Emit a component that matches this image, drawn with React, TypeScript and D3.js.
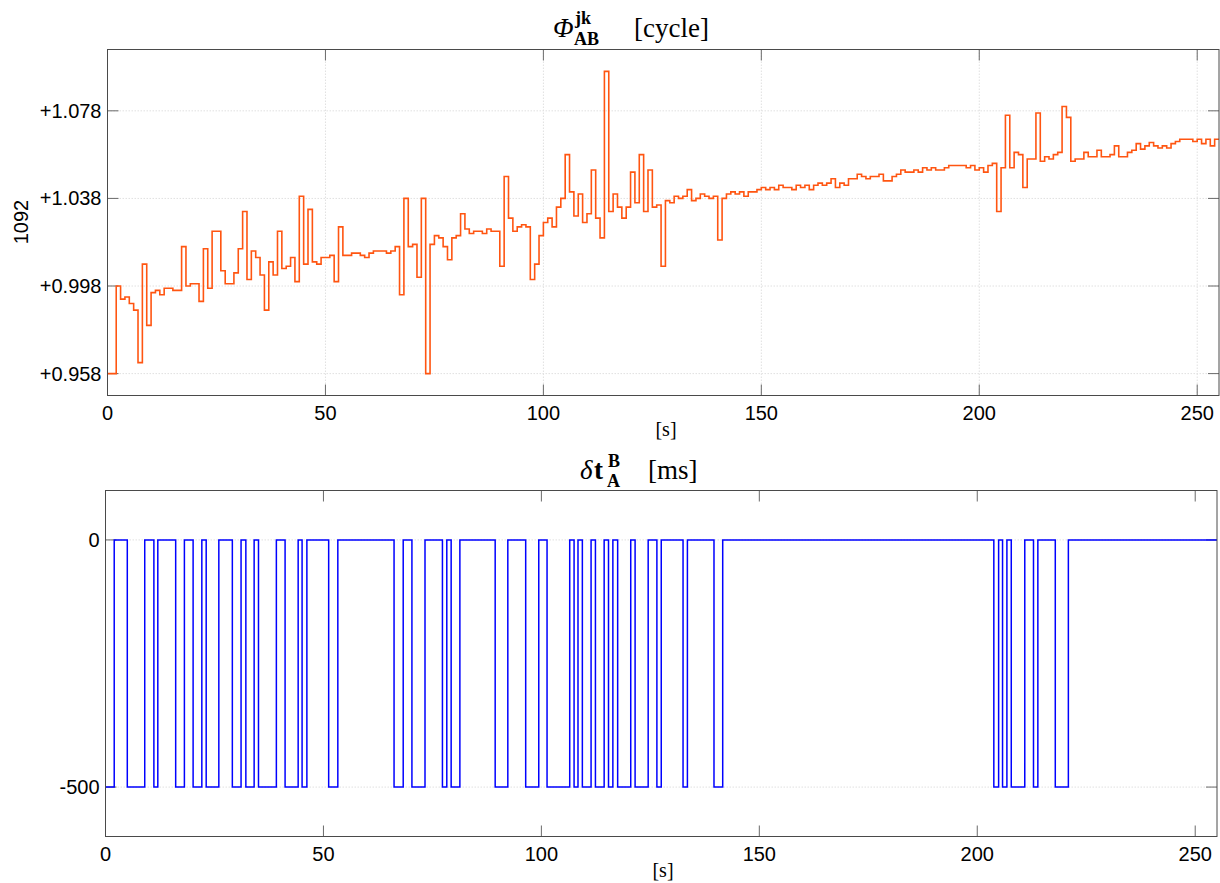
import React from 'react';
import * as d3 from 'd3';

// ---------- data ----------
const phiOffset = 1092;
// carrier-phase (offset from 1092 cycles), one value per second, t = 0..254
const phiValues = [
  0.958, 0.958, 0.998, 0.992, 0.993, 0.990, 0.987, 0.963, 1.008, 0.980,
  0.995, 0.996, 0.994, 0.997, 0.997, 0.996, 0.996, 1.016, 0.998, 0.999,
  0.999, 0.991, 1.015, 0.997, 1.023, 1.023, 1.005, 0.999, 0.999, 1.004,
  1.015, 1.032, 1.001, 1.014, 1.011, 1.003, 0.987, 1.009, 1.003, 1.023,
  1.006, 1.007, 1.011, 1.000, 1.039, 1.008, 1.033, 1.009, 1.008, 1.011,
  1.011, 1.012, 1.000, 1.025, 1.012, 1.012, 1.013, 1.013, 1.012, 1.011,
  1.013, 1.014, 1.014, 1.014, 1.013, 1.014, 1.016, 0.994, 1.038, 1.016,
  1.017, 1.002, 1.038, 0.958, 1.017, 1.021, 1.020, 1.016, 1.010, 1.020,
  1.021, 1.031, 1.024, 1.022, 1.023, 1.023, 1.022, 1.024, 1.023, 1.023,
  1.007, 1.048, 1.029, 1.023, 1.025, 1.026, 1.025, 1.001, 1.008, 1.021,
  1.027, 1.029, 1.025, 1.034, 1.038, 1.058, 1.041, 1.030, 1.040, 1.027,
  1.031, 1.051, 1.029, 1.020, 1.096, 1.032, 1.040, 1.034, 1.029, 1.034,
  1.050, 1.036, 1.058, 1.032, 1.051, 1.034, 1.035, 1.007, 1.037, 1.036,
  1.039, 1.038, 1.039, 1.042, 1.037, 1.038, 1.040, 1.039, 1.038, 1.039,
  1.019, 1.038, 1.040, 1.041, 1.040, 1.041, 1.039, 1.041, 1.041, 1.042,
  1.043, 1.042, 1.043, 1.042, 1.044, 1.043, 1.043, 1.042, 1.044, 1.043,
  1.044, 1.042, 1.044, 1.045, 1.044, 1.045, 1.047, 1.043, 1.045, 1.044,
  1.047, 1.047, 1.049, 1.048, 1.047, 1.048, 1.048, 1.049, 1.046, 1.046,
  1.048, 1.049, 1.051, 1.050, 1.050, 1.051, 1.050, 1.052, 1.051, 1.052,
  1.051, 1.051, 1.052, 1.053, 1.053, 1.053, 1.053, 1.052, 1.053, 1.051,
  1.052, 1.050, 1.053, 1.054, 1.032, 1.052, 1.076, 1.052, 1.059, 1.058,
  1.043, 1.056, 1.056, 1.077, 1.055, 1.057, 1.056, 1.058, 1.059, 1.080,
  1.075, 1.055, 1.056, 1.056, 1.059, 1.057, 1.057, 1.060, 1.057, 1.057,
  1.058, 1.062, 1.057, 1.057, 1.059, 1.060, 1.063, 1.0605, 1.062, 1.0635,
  1.062, 1.061, 1.062, 1.061, 1.063, 1.064, 1.065, 1.065, 1.065, 1.064,
  1.065, 1.063, 1.065, 1.062, 1.065,
];
const phiYTicks = [0.958, 0.998, 1.038, 1.078];
const phiYTickLabels = ['+0.958', '+0.998', '+1.038', '+1.078'];

const xTicks = [0, 50, 100, 150, 200, 250];
const xMax = 255;

// clock offset steps: value holds from time until next time
const dtTimes = [
  0, 2.0, 5.0, 9.0, 11.1, 12.0, 16.1, 18.1, 20.1, 22.1, 23.1, 26.0, 29.1, 31.1,
  32.2, 34.1, 35.1, 39.2, 41.2, 44.2, 45.1, 46.2, 51.2, 53.3, 66.2, 68.3, 70.3,
  73.3, 77.3, 78.3, 79.3, 81.3, 89.4, 92.3, 96.4, 99.4, 101.3, 106.5, 107.5,
  108.4, 109.4, 111.4, 112.4, 114.4, 115.4, 116.4, 117.5, 120.5, 121.5, 124.5,
  126.5, 127.5, 132.5, 133.5, 139.6, 141.6, 203.8, 204.9, 205.8, 206.8, 207.8,
  210.9, 212.9, 213.9, 217.9, 220.9,
];
const dtValues = [
  -500, 0, -500, 0, -500, 0, -500, 0, -500, 0, -500, 0, -500, 0,
  -500, 0, -500, 0, -500, 0, -500, 0, -500, 0, -500, 0, -500,
  0, -500, 0, -500, 0, -500, 0, -500, 0, -500, 0, -500,
  0, -500, 0, -500, 0, -500, 0, -500, 0, -500, 0,
  -500, 0, -500, 0, -500, 0, -500, 0, -500, 0, -500,
  0, -500, 0, -500, 0,
];
const dtYTicks = [-500, 0];
const dtYTickLabels = ['-500', '0'];

// ---------- styles ----------
const SANS = '"Liberation Sans", Arial, Helvetica, sans-serif';
const SERIF = '"Liberation Serif", "DejaVu Serif", "Times New Roman", serif';
const FRAME = '#4a4a4a';
const TICK = '#6a6a6a';
const GRID = '#e0e0e0';

type PanelProps = {
  left: number; right: number; top: number; bottom: number;
  yDomain: [number, number];
  yTicks: number[]; yTickLabels: string[];
  points: [number, number][];
  color: string; lineWidth: number;
  xGrid: boolean; labelGap: number; id: string;
};

function Panel(p: PanelProps) {
  const x = d3.scaleLinear().domain([0, xMax]).range([p.left, p.right]);
  const y = d3.scaleLinear().domain(p.yDomain).range([p.bottom, p.top]);
  const line = d3.line<[number, number]>()
    .x(d => x(d[0]))
    .y(d => y(d[1]))
    .curve(d3.curveStepAfter);
  const tl = 11;
  return (
    <g>
      <defs>
        <clipPath id={p.id}>
          <rect x={p.left} y={p.top} width={p.right - p.left} height={p.bottom - p.top} />
        </clipPath>
      </defs>
      <rect x={p.left} y={p.top} width={p.right - p.left} height={p.bottom - p.top} fill="#fff" />
      {/* grid */}
      {p.xGrid && xTicks.filter(t => t > 0).map(t => (
        <line key={'gx' + t} x1={x(t)} x2={x(t)} y1={p.top} y2={p.bottom}
          stroke={GRID} strokeWidth={1} strokeDasharray="1.5,1.5" />
      ))}
      {p.yTicks.map(t => (
        <line key={'gy' + t} x1={p.left} x2={p.right} y1={y(t)} y2={y(t)}
          stroke={GRID} strokeWidth={1} strokeDasharray="1.5,1.5" />
      ))}
      {/* ticks */}
      {xTicks.map(t => (
        <g key={'tx' + t}>
          <line x1={x(t)} x2={x(t)} y1={p.bottom} y2={p.bottom - tl} stroke={TICK} strokeWidth={1} />
          <line x1={x(t)} x2={x(t)} y1={p.top} y2={p.top + tl} stroke={TICK} strokeWidth={1} />
          <text x={x(t)} y={p.bottom + 24} fontFamily={SANS} fontSize={20} textAnchor="middle" fill="#000">{t}</text>
        </g>
      ))}
      {p.yTicks.map((t, i) => (
        <g key={'ty' + t}>
          <line x1={p.left} x2={p.left + tl} y1={y(t)} y2={y(t)} stroke={TICK} strokeWidth={1} />
          <line x1={p.right} x2={p.right - tl} y1={y(t)} y2={y(t)} stroke={TICK} strokeWidth={1} />
          <text x={p.left - p.labelGap} y={y(t) + 7} fontFamily={SANS} fontSize={20} textAnchor="end" fill="#000">{p.yTickLabels[i]}</text>
        </g>
      ))}
      {/* data */}
      <path d={line(p.points) || ''} fill="none" stroke={p.color} strokeWidth={p.lineWidth}
        strokeLinejoin="miter" clipPath={`url(#${p.id})`} />
      {/* frame */}
      <rect x={p.left} y={p.top} width={p.right - p.left} height={p.bottom - p.top}
        fill="none" stroke={FRAME} strokeWidth={1} />
    </g>
  );
}

export default function App() {
  const phiPoints: [number, number][] = phiValues.map((v, i) => [i, v] as [number, number]);
  phiPoints.push([xMax, phiValues[phiValues.length - 1]]);
  const dtPoints: [number, number][] = dtTimes.map((t, i) => [t, dtValues[i]] as [number, number]);
  dtPoints.push([xMax, dtValues[dtValues.length - 1]]);

  return (
    <svg width={1220} height={883} viewBox="0 0 1220 883"
      style={{ position: 'absolute', left: 0, top: 0, background: '#fff' }}>
      <rect x={0} y={0} width={1220} height={883} fill="#fff" />

      {/* ----- top panel ----- */}
      <Panel id="clipTop" left={107.5} right={1219} top={49.5} bottom={395.5}
        yDomain={[0.948, 1.106]} yTicks={phiYTicks} yTickLabels={phiYTickLabels}
        points={phiPoints} color="#ff5511" lineWidth={1.6} xGrid={true} labelGap={6} />
      {/* title */}
      <text x={553} y={37} fontFamily={SERIF} fontSize={27} fontStyle="italic" fill="#000">Φ</text>
      <text x={575} y={24} fontFamily={SERIF} fontSize={18} fontWeight="bold" fill="#000">jk</text>
      <text x={574} y={45} fontFamily={SERIF} fontSize={18} fontWeight="bold" fill="#000">AB</text>
      <text x={634} y={37} fontFamily={SERIF} fontSize={27} fill="#000">[cycle]</text>
      {/* y label */}
      <text transform={`translate(28,222) rotate(-90)`} fontFamily={SANS} fontSize={20}
        textAnchor="middle" fill="#000">{phiOffset}</text>
      {/* x label */}
      <text x={666} y={436} fontFamily={SERIF} fontSize={20} textAnchor="middle" fill="#000">[s]</text>

      {/* ----- bottom panel ----- */}
      <Panel id="clipBottom" left={105.5} right={1217} top={490.5} bottom={836.5}
        yDomain={[-600, 100]} yTicks={dtYTicks} yTickLabels={dtYTickLabels}
        points={dtPoints} color="#0000ff" lineWidth={1.5} xGrid={false} labelGap={6} />
      <text x={580} y={479} fontFamily={SERIF} fontSize={27} fontStyle="italic" fill="#000">δ</text>
      <text x={594} y={479} fontFamily={SERIF} fontSize={27} fontWeight="bold" fill="#000">t</text>
      <text x={608} y={467} fontFamily={SERIF} fontSize={18} fontWeight="bold" fill="#000">B</text>
      <text x={607} y={487} fontFamily={SERIF} fontSize={18} fontWeight="bold" fill="#000">A</text>
      <text x={648} y={479} fontFamily={SERIF} fontSize={27} fill="#000">[ms]</text>
      <text x={663} y={877} fontFamily={SERIF} fontSize={20} textAnchor="middle" fill="#000">[s]</text>
    </svg>
  );
}
